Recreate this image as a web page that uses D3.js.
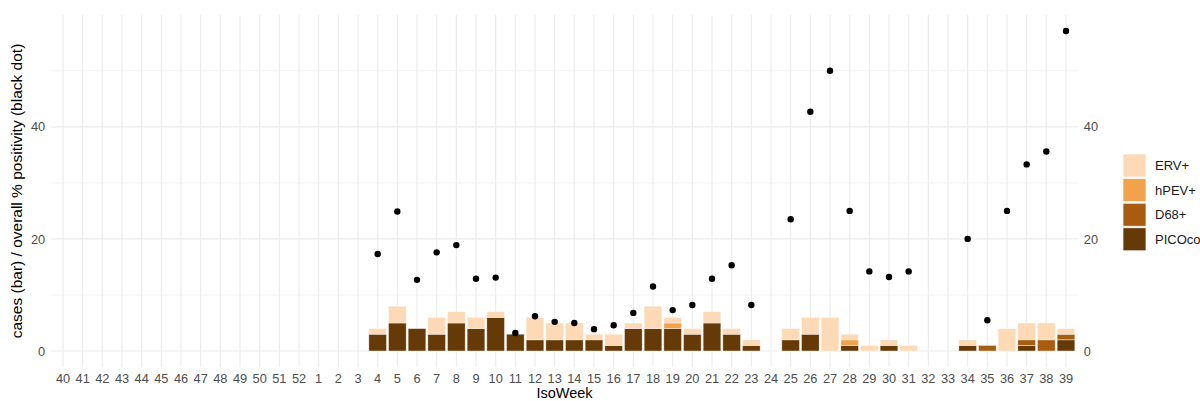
<!DOCTYPE html>
<html>
<head>
<meta charset="utf-8">
<script src="https://cdn.jsdelivr.net/npm/d3@7"></script>
<style>
  html, body { margin: 0; padding: 0; background: #ffffff; }
  svg { display: block; }
  text { font-family: "Liberation Sans", Arial, "DejaVu Sans", sans-serif; }
</style>
</head>
<body>
<svg id="chart" width="1200" height="401"></svg>
<script>
// ---- data ----
const weeks = ["40","41","42","43","44","45","46","47","48","49","50","51","52",
  "1","2","3","4","5","6","7","8","9","10","11","12","13","14","15","16","17","18","19","20",
  "21","22","23","24","25","26","27","28","29","30","31","32","33","34","35","36","37","38","39"];
// weeks 4..39 values (weeks 40..3 have no data)
const PICOco = [0,0,0,0,0,0,0,0,0,0,0,0,0, 0,0,0,
  3,5,4,3,5,4,6,3,2,2,2,2,1,4,4,4,3,5,3,1,0,2,3,0,1,0,1,0,0,0,1,0,0,1,0,2];
const D68 = [0,0,0,0,0,0,0,0,0,0,0,0,0, 0,0,0,
  0,0,0,0,0,0,0,0,0,0,0,0,0,0,0,0,0,0,0,0,0,0,0,0,0,0,0,0,0,0,0,1,0,1,2,1];
const hPEV = [0,0,0,0,0,0,0,0,0,0,0,0,0, 0,0,0,
  0,0,0,0,0,0,0,0,0,0,0,0,0,0,0,1,0,0,0,0,0,0,0,0,1,0,0,0,0,0,0,0,0,0,0,0];
const ERV = [0,0,0,0,0,0,0,0,0,0,0,0,0, 0,0,0,
  1,3,0,3,2,2,1,0,4,3,3,1,2,1,4,1,1,2,1,1,0,2,3,6,1,1,1,1,0,0,1,0,4,3,3,1];
const positivity = [null,null,null,null,null,null,null,null,null,null,null,null,null, null,null,null,
  17.3,24.9,12.7,17.6,18.9,12.9,13.1,3.2,6.2,5.2,5.0,3.9,4.6,6.8,11.5,7.3,8.2,
  12.9,15.3,8.2,null,23.5,42.7,50.0,25.0,14.2,13.2,14.2,null,null,20.0,5.5,25.0,33.3,35.6,57.1];
const seriesNames = ["PICOco","D68+","hPEV+","ERV+"];
const seriesValues = [PICOco, D68, hPEV, ERV];
const seriesColors = ["#653A06","#A85C10","#F2A24B","#FDD9B5"];
const yTicks = [0, 20, 40];
const yMinorTicks = [10, 30, 50];

// ---- layout ----
const svg = d3.select("#chart");
const pLeft = 51.2, pRight = 1077.8, pTop = 15, pBottom = 367;

const rows = weeks.map((w, i) => {
  const r = { week: w, dot: positivity[i] };
  seriesNames.forEach((s, j) => r[s] = seriesValues[j][i]);
  return r;
});
const stack = d3.stack().keys(seriesNames)(rows);

const x = d3.scaleBand().domain(weeks).range([pLeft, pRight]).paddingInner(0.1).paddingOuter(0.15);
const maxTotal = d3.max(rows, r => d3.sum(seriesNames, s => r[s]));
const maxDot = d3.max(positivity.filter(v => v != null));
const yMax = Math.max(maxTotal, maxDot), yMin = 0;
const pad = (yMax - yMin) * 0.05;
const y = d3.scaleLinear().domain([yMin - pad, yMax + pad]).range([pBottom, pTop]);

// grid
const grid = svg.append("g");
grid.selectAll(".minor").data(yMinorTicks).join("line")
  .attr("x1", pLeft).attr("x2", pRight)
  .attr("y1", d => y(d)).attr("y2", d => y(d))
  .attr("stroke", "#EBEBEB").attr("stroke-width", 0.6);
grid.selectAll(".majory").data(yTicks).join("line")
  .attr("x1", pLeft).attr("x2", pRight)
  .attr("y1", d => y(d)).attr("y2", d => y(d))
  .attr("stroke", "#EBEBEB").attr("stroke-width", 1.1);
grid.selectAll(".majorx").data(weeks).join("line")
  .attr("x1", d => x(d) + x.bandwidth() / 2).attr("x2", d => x(d) + x.bandwidth() / 2)
  .attr("y1", pTop).attr("y2", pBottom)
  .attr("stroke", "#EBEBEB").attr("stroke-width", 1.1);

// bars
const barsG = svg.append("g");
stack.forEach((layer, j) => {
  barsG.append("g").selectAll("rect")
    .data(layer.filter(d => d[1] - d[0] > 0))
    .join("rect")
    .attr("x", d => x(d.data.week))
    .attr("width", x.bandwidth())
    .attr("y", d => y(d[1]))
    .attr("height", d => y(d[0]) - y(d[1]))
    .attr("fill", seriesColors[j])
    .attr("stroke", "#ffffff").attr("stroke-opacity", 0.6).attr("stroke-width", 0.7);
});

// dots
svg.append("g").selectAll("circle")
  .data(rows.filter(r => r.dot != null))
  .join("circle")
  .attr("cx", d => x(d.week) + x.bandwidth() / 2)
  .attr("cy", d => y(d.dot))
  .attr("r", 3.2)
  .attr("fill", "#000000");

// axes
const axL = d3.axisLeft(y).tickValues(yTicks).tickSize(0).tickPadding(6);
const gL = svg.append("g").attr("transform", `translate(${pLeft},0)`).call(axL);
const axR = d3.axisRight(y).tickValues(yTicks).tickSize(0).tickPadding(6);
const gR = svg.append("g").attr("transform", `translate(${pRight},0)`).call(axR);
const axB = d3.axisBottom(x).tickSize(0).tickPadding(7);
const gB = svg.append("g").attr("transform", `translate(0,${pBottom})`).call(axB);
[gL, gR, gB].forEach(g => {
  g.select(".domain").remove();
  g.selectAll("text").attr("fill", "#4D4D4D").attr("font-size", "12.8px");
});

// titles
svg.append("text")
  .attr("x", (pLeft + pRight) / 2).attr("y", 398)
  .attr("text-anchor", "middle").attr("font-size", "14.5px").attr("fill", "#000")
  .text("IsoWeek");
svg.append("text")
  .attr("transform", `translate(22,${(pTop + pBottom) / 2}) rotate(-90)`)
  .attr("text-anchor", "middle").attr("font-size", "15.5px").attr("fill", "#000")
  .text("cases (bar) / overall % positivity (black dot)");

// legend
const legendOrder = [3, 2, 1, 0];
const lg = svg.append("g").attr("transform", "translate(1123,154)");
legendOrder.forEach((j, k) => {
  const gy = k * 24.6;
  lg.append("rect").attr("x", 0).attr("y", gy).attr("width", 23).attr("height", 23)
    .attr("fill", seriesColors[j]).attr("stroke", "#fff").attr("stroke-width", 0.7);
  lg.append("text").attr("x", 32).attr("y", gy + 11.5).attr("dy", "0.35em")
    .attr("font-size", "13px").attr("fill", "#1A1A1A").text(seriesNames[j]);
});
</script>
</body>
</html>
